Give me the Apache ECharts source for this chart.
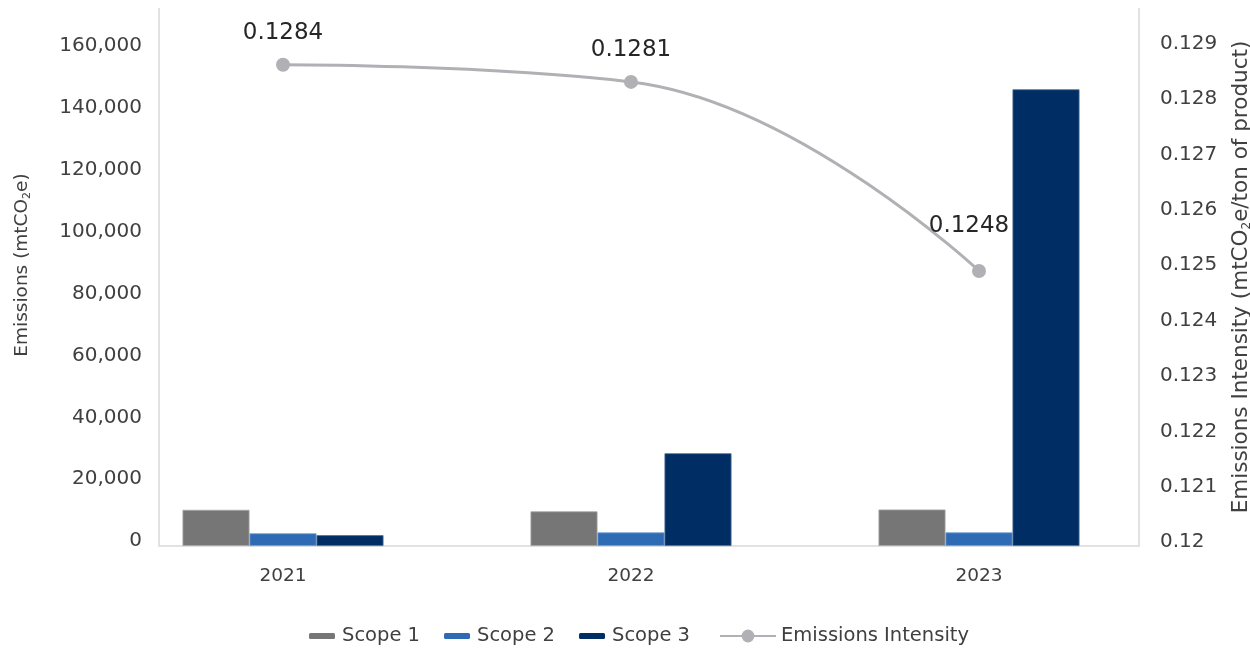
<!DOCTYPE html>
<html>
<head>
<meta charset="utf-8">
<script src="https://cdn.jsdelivr.net/npm/echarts@6/dist/echarts.min.js"></script>
<style>
  html, body { margin: 0; padding: 0; background: #fff; }
  #main { width: 1250px; height: 648px; }
</style>
</head>
<body>
<div id="main"></div>
<script>
const years = ['2021', '2022', '2023'];
const scope1 = [11700, 11200, 11800];
const scope2 = [4100, 4400, 4400];
const scope3 = [3500, 30000, 147700];
const intensity = [0.1284, 0.1281, 0.1248];
// label nudges for the intensity values (px)
const labelShift = [[0, 0], [0, 0], [-10, -13]];

const FONT = 'DejaVu Sans';
const chart = echarts.init(document.getElementById('main'));

const lineGray = '#b1b1b5';
const txt = '#404040';

const option = {
  backgroundColor: '#fff',
  animation: false,
  textStyle: { fontFamily: FONT },
  grid: { left: 109, right: 97, top: 8, bottom: 102, outerBoundsMode: 'none', containLabel: false },
  // plot frame (left, bottom, right)
  graphic: [{
    type: 'polyline',
    shape: { points: [[159, 8], [159, 546], [1139, 546], [1139, 8]] },
    style: { stroke: '#d9d9d9', lineWidth: 1.5, fill: null },
    z: -1
  }],
  legend: [{
    data: ['Scope 1', 'Scope 2', 'Scope 3'],
    left: 304, top: 621,
    itemWidth: 26, itemHeight: 6, itemGap: 24,
    itemStyle: { borderWidth: 0 },
    textStyle: { fontFamily: FONT, fontSize: 19.5, color: txt, padding: [0, 0, 0, 2] }
  }, {
    data: ['Emissions Intensity'],
    left: 714, top: 621,
    itemWidth: 56, itemHeight: 16,
    textStyle: { fontFamily: FONT, fontSize: 19.5, color: txt }
  }],
  xAxis: {
    type: 'category',
    data: years,
    axisLine: { show: false },
    axisTick: { show: false },
    axisLabel: { fontFamily: FONT, fontSize: 18.5, color: txt, margin: 21 }
  },
  yAxis: [{
    type: 'value',
    min: 0, max: 174000, interval: 20000,
    offset: -50,
    splitLine: { show: false },
    axisLine: { show: false },
    axisLabel: {
      fontFamily: FONT, fontSize: 20, color: txt, margin: 17,
      showMaxLabel: false,
      formatter: v => '{t|' + v.toLocaleString('en-US') + '}',
      rich: { t: { fontFamily: FONT, fontSize: 20, color: txt, padding: [0, 0, 10, 0] } }
    },
    name: 'Emissions (mtCO{sub|2}e)',
    nameLocation: 'middle',
    nameGap: 126,
    nameTextStyle: {
      fontFamily: FONT, fontSize: 18.5, color: txt,
      padding: [0, 0, 0, 24],
      rich: { sub: { fontSize: 11, verticalAlign: 'bottom', padding: [11, 0, 0, 0], fontFamily: FONT, color: txt } }
    }
  }, {
    type: 'value',
    position: 'right',
    min: 0.12, max: 0.12972, interval: 0.001,
    offset: -14,
    splitLine: { show: false },
    axisLine: { show: false },
    axisLabel: {
      fontFamily: FONT, fontSize: 20, color: txt, margin: 21,
      showMaxLabel: false,
      formatter: v => '{t|' + String(+v.toFixed(3)) + '}',
      rich: { t: { fontFamily: FONT, fontSize: 20, color: txt, padding: [0, 0, 8, 0] } }
    },
    name: 'Emissions Intensity (mtCO{sub|2}e/ton of product)',
    nameLocation: 'middle',
    nameGap: 90,
    nameRotate: 90,
    nameTextStyle: {
      fontFamily: FONT, fontSize: 21.5, color: txt,
      rich: { sub: { fontSize: 12, verticalAlign: 'bottom', padding: [12, 0, 0, 0], fontFamily: FONT, color: txt } }
    }
  }, {
    // scale used for the intensity line
    type: 'value',
    position: 'right',
    show: false,
    min: 0.12, max: 0.12939
  }],
  series: [{
    name: 'Scope 1', type: 'bar', data: scope1,
    barWidth: 67, barGap: '0%',
    itemStyle: { color: '#767676', borderColor: '#a6a6a6', borderWidth: 0.8 }
  }, {
    name: 'Scope 2', type: 'bar', data: scope2,
    barWidth: 67,
    itemStyle: { color: '#2f6bb4', borderColor: '#6f9bd0', borderWidth: 0.8 }
  }, {
    name: 'Scope 3', type: 'bar', data: scope3,
    barWidth: 67,
    itemStyle: { color: '#002d63', borderColor: '#4d6e96', borderWidth: 0.8 }
  }, {
    name: 'Emissions Intensity', type: 'line',
    yAxisIndex: 2,
    smooth: 0.45,
    symbol: 'circle', symbolSize: 14,
    lineStyle: { color: lineGray, width: 3 },
    itemStyle: { color: lineGray },
    data: intensity.map((v, i) => ({
      value: v,
      label: { offset: labelShift[i] }
    })),
    label: {
      show: true, position: 'top', distance: 13,
      fontFamily: FONT, fontSize: 23, color: '#262626',
      formatter: p => p.value.toFixed(4)
    },
    z: 5
  }]
};

chart.setOption(option);
</script>
</body>
</html>
